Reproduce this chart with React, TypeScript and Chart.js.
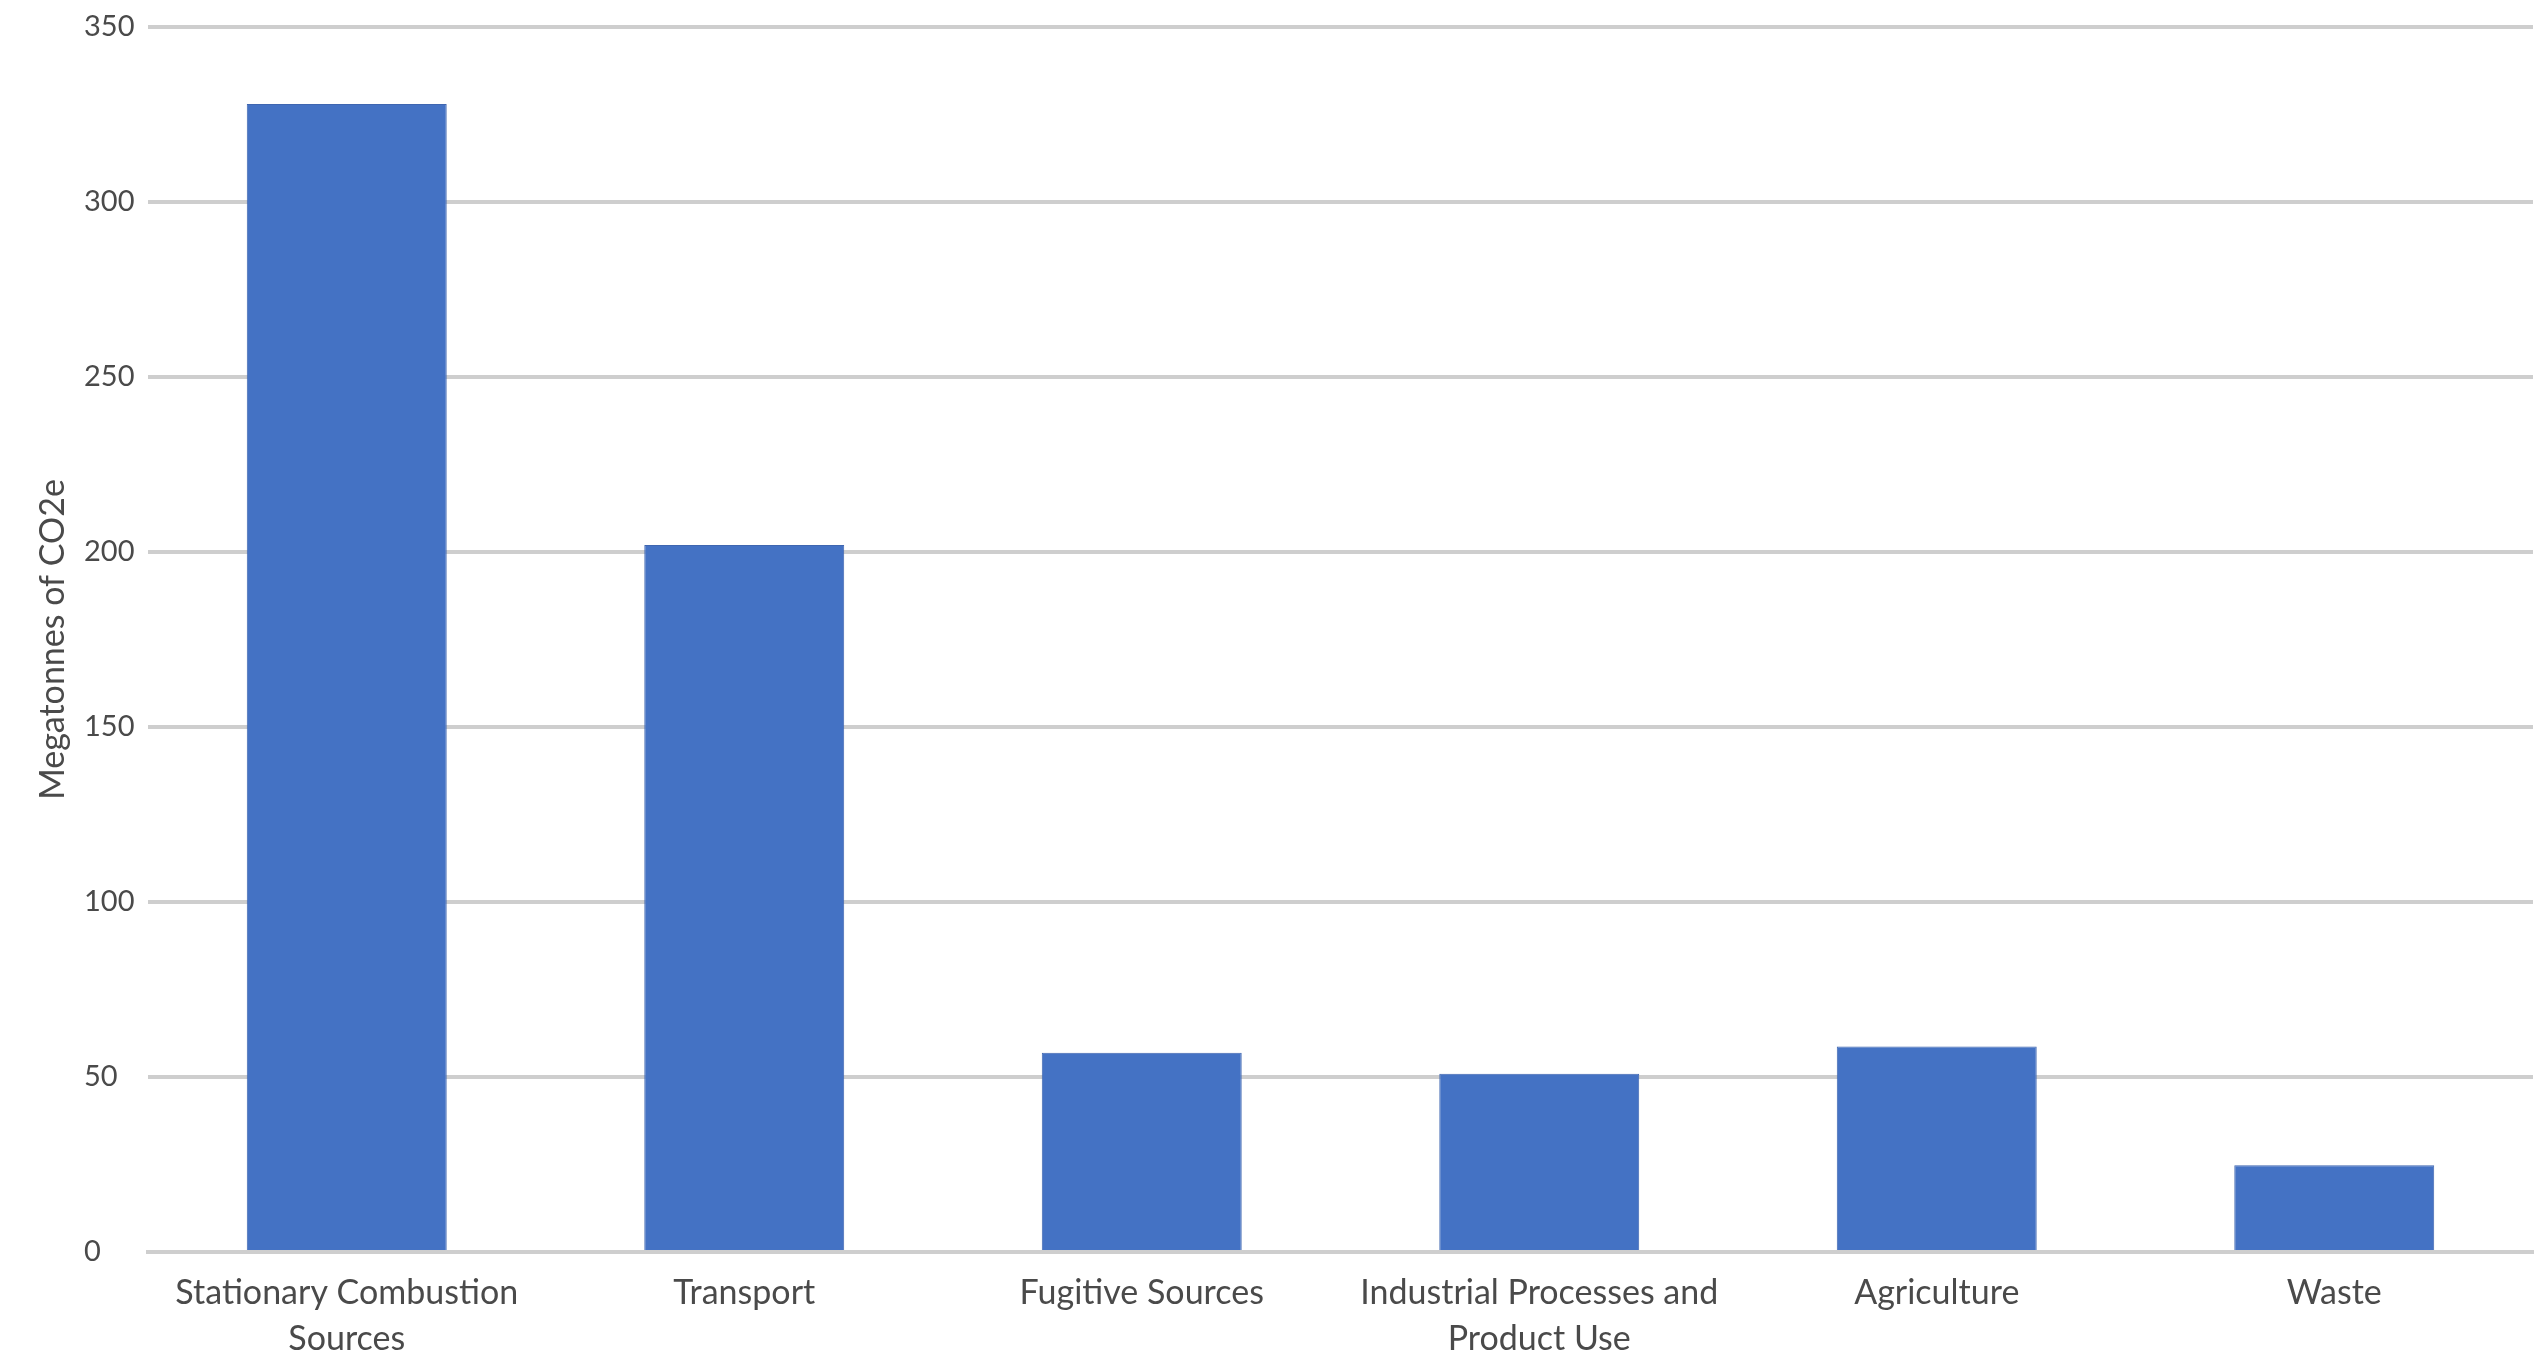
import React, { useEffect, useRef } from "react";
import { Chart, registerables } from "chart.js";

Chart.register(...registerables);

// Emissions by sector, megatonnes of CO2e
const categories: (string | string[])[] = [
  ["Stationary Combustion", "Sources"],
  "Transport",
  "Fugitive Sources",
  ["Industrial Processes and", "Product Use"],
  "Agriculture",
  "Waste",
];
const emissions = [328, 202, 56.9, 50.9, 58.7, 24.8];
const yMin = 0;
const yMax = 350;
const yStep = 50;
const yTitle = "Megatonnes of CO2e";

const FONT = "Lato, 'Open Sans', sans-serif";
const TEXT = "#4a4a4a";
const GRID = "#cecece";
const BAR = "#4472c4";

export default function App() {
  const canvasRef = useRef<HTMLCanvasElement | null>(null);

  useEffect(() => {
    document.body.style.margin = "0";
    const canvas = canvasRef.current;
    if (!canvas) return;
    const chart = new Chart(canvas, {
      type: "bar",
      data: {
        labels: categories,
        datasets: [
          {
            data: emissions,
            backgroundColor: BAR,
            borderColor: "#3f66b0",
            borderWidth: 1,
            barPercentage: 0.503,
            categoryPercentage: 1,
          },
        ],
      },
      options: {
        animation: false,
        responsive: true,
        maintainAspectRatio: false,
        layout: { padding: { left: 84, right: 9, top: 27, bottom: 0 } },
        plugins: {
          legend: { display: false },
          tooltip: { enabled: false },
        },
        scales: {
          x: {
            grid: { display: false, drawTicks: false },
            border: { display: true, color: GRID, width: 4 },
            ticks: {
              color: TEXT,
              font: { family: FONT, size: 34, lineHeight: 1.35 },
              padding: 18,
              maxRotation: 0,
              autoSkip: false,
            },
            afterFit: (s: any) => {
              s.height = 102;
            },
          },
          y: {
            min: yMin,
            max: yMax,
            border: { display: false },
            grid: { color: GRID, lineWidth: 4, drawTicks: false },
            ticks: {
              stepSize: yStep,
              color: TEXT,
              crossAlign: "far",
              font: { family: FONT, size: 29 },
            },
            title: {
              display: true,
              text: yTitle,
              color: TEXT,
              font: { family: FONT, size: 34, lineHeight: 1.2 },
              padding: { top: -51, bottom: 0 },
            },
            afterFit: (s: any) => {
              s.width = 64;
            },
          },
        },
      },
    });
    return () => chart.destroy();
  }, []);

  return (
    <div style={{ width: "100vw", height: "100vh", position: "relative" }}>
      <canvas ref={canvasRef} />
    </div>
  );
}
